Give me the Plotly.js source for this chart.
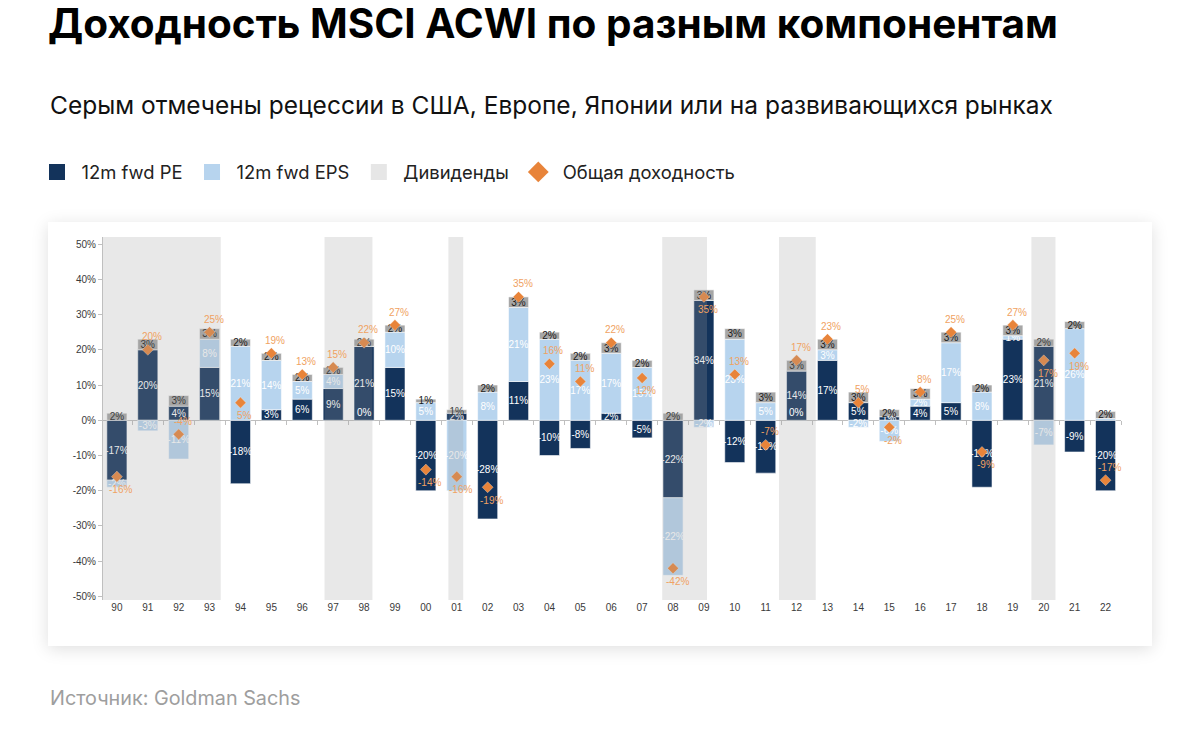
<!DOCTYPE html>
<html>
<head>
<meta charset="utf-8">
<script src="https://cdn.plot.ly/plotly-3.0.1.min.js"></script>
<style>
  html, body { margin: 0; padding: 0; background: #ffffff; }
  #wrap { position: relative; width: 1200px; height: 746px; }
  #card { position: absolute; left: 48px; top: 222px; width: 1104px; height: 424px;
          background: #ffffff; box-shadow: 0 3px 16px rgba(0,0,0,0.13); }
  #chart { position: absolute; left: 0; top: 0; width: 1200px; height: 746px; }
</style>
</head>
<body>
<div id="wrap">
  <div id="card"></div>
  <div id="chart"></div>
</div>
<script>
// ---- data ----
const years = ['90','91','92','93','94','95','96','97','98','99',
               '00','01','02','03','04','05','06','07','08','09',
               '10','11','12','13','14','15','16','17','18','19',
               '20','21','22'];
const peContribution = [-17, 20, 4, 15, -18, 3, 6, 9, 21, 15,
                        -20, 2, -28, 11, -10, -8, 2, -5, -22, 34,
                        -12, -15, 14, 17, 5, 1, 4, 5, -19, 23,
                        21, -9, -20];
const epsContribution = [-2, -3, -11, 8, 21, 14, 5, 4, 0, 10,
                         5, -20, 8, 21, 23, 17, 17, 15, -22, -2,
                         23, 5, 0, 3, -2, -6, 2, 17, 8, 1,
                         -7, 26, 0.5];
const dividends = [2, 3, 3, 3, 2, 2, 2, 2, 2, 2,
                   1, 1, 2, 3, 2, 2, 3, 2, 2, 3,
                   3, 3, 3, 3, 3, 2, 3, 3, 2, 3,
                   2, 2, 2];
const totalReturn = [-16, 20, -4, 25, 5, 19, 13, 15, 22, 27,
                     -14, -16, -19, 35, 16, 11, 22, 12, -42, 35,
                     13, -7, 17, 23, 5, -2, 8, 25, -9, 27,
                     17, 19, -17];
const recessions = [['90','93'], ['97','98'], ['01','01'], ['08','09'], ['12','12'], ['20','20']];
const yTicks = [50, 40, 30, 20, 10, 0, -10, -20, -30, -40, -50];

// ---- style (positions / looks) ----
const totalLabelPos = ['bottom','top','top','top','bottom','top','top','top','top','top',
                       'bottom','bottom','bottom','top','top','top','top','bottom','bottom','bottom',
                       'top','top','top','top','top','bottom','top','top','bottom','top',
                       'bottom','bottom','top'];
const recessionPad = [[0.45, 0.36], [0.28, 0.27], [0.27, 0.21], [0.35, 0.10], [0.57, 0.62], [0.40, 0.38]];

const C_PE = '#13335b', C_EPS = '#b7d4ee', C_DIV = '#a6a6a6', C_DIV_LEG = '#e6e6e6';
const C_ORANGE = '#e8843a', C_ORANGE_TXT = '#f0a262';
const AX = '#bfbfbf', TICKTXT = '#3a3a3a';
const chartFont = 'Liberation Sans, Arial, sans-serif';
const pageFont = 'Inter, Roboto, sans-serif';

const pct = v => (Math.abs(v) < 1 && v !== 0) ? '' : Math.round(v) + '%';
const yRange = [-51, 52];

const barCommon = {
  type: 'bar', x: years, textposition: 'inside', insidetextanchor: 'middle',
  textangle: 0, constraintext: 'none', showlegend: false, hoverinfo: 'skip',
  cliponaxis: false
};

const traces = [
  Object.assign({}, barCommon, {
    name: '12m fwd PE', y: peContribution, text: peContribution.map(pct),
    marker: { color: C_PE, line: { color: 'rgba(255,255,255,0.7)', width: 0.8 } },
    textfont: { color: '#ffffff', size: 10, family: chartFont }
  }),
  Object.assign({}, barCommon, {
    name: '12m fwd EPS', y: epsContribution, text: epsContribution.map(pct),
    marker: { color: C_EPS, line: { color: 'rgba(255,255,255,0.7)', width: 0.8 } },
    textfont: { color: '#ffffff', size: 10, family: chartFont }
  }),
  Object.assign({}, barCommon, {
    name: 'Дивиденды', y: dividends, text: dividends.map(pct),
    marker: { color: C_DIV, line: { color: 'rgba(255,255,255,0.7)', width: 0.8 } },
    textfont: { color: '#1a1a1a', size: 10, family: chartFont }
  }),
  {
    type: 'scatter', mode: 'markers', name: 'Общая доходность',
    x: years, y: totalReturn, xaxis: 'x2', yaxis: 'y',
    marker: { symbol: 'diamond', size: 8.5, color: C_ORANGE, line: { color: 'rgba(255,255,255,0.6)', width: 0.5 } },
    showlegend: false, hoverinfo: 'skip', cliponaxis: false
  },
  // legend entries
  { type: 'scatter', mode: 'markers', x: [null], y: [null], name: '12m fwd PE',
    marker: { symbol: 'square', size: 16, color: C_PE } },
  { type: 'scatter', mode: 'markers', x: [null], y: [null], name: '12m fwd EPS',
    marker: { symbol: 'square', size: 16, color: C_EPS } },
  { type: 'scatter', mode: 'markers', x: [null], y: [null], name: 'Дивиденды',
    marker: { symbol: 'square', size: 16, color: C_DIV_LEG } },
  { type: 'scatter', mode: 'markers', x: [null], y: [null], name: 'Общая доходность',
    marker: { symbol: 'diamond', size: 16, color: C_ORANGE } }
];

// recession shading (category index units)
const shapes = recessions.map((r, i) => ({
  type: 'rect', layer: 'above', xref: 'x', yref: 'paper',
  x0: years.indexOf(r[0]) - recessionPad[i][0],
  x1: years.indexOf(r[1]) + recessionPad[i][1],
  y0: 0, y1: 1,
  fillcolor: 'rgba(160,160,160,0.24)', line: { width: 0 }
}));

const annotations = [];
// total return labels (x given as category index)
totalReturn.forEach((v, i) => {
  annotations.push({ x: i, y: v, xref: 'x', yref: 'y', yanchor: 'middle',
    yshift: totalLabelPos[i] === 'top' ? 13 : -13, xshift: 4,
    text: pct(v), showarrow: false,
    font: { color: C_ORANGE_TXT, size: 10, family: chartFont } });
});
// zero-value EPS labels
epsContribution.forEach((v, i) => {
  if (v === 0) {
    annotations.push({ x: i, y: 0, xref: 'x', yref: 'y', yanchor: 'bottom',
      text: '0%', showarrow: false, font: { color: '#ffffff', size: 10, family: chartFont } });
  }
});

// page texts
const W = 1200, H = 746, mL = 103, mR = 79, mT = 237, mB = 146;
const pw = W - mL - mR, ph = H - mT - mB;
const px2x = px => (px - mL) / pw;
const py2y = py => (H - mB - py) / ph;

annotations.push({
  xref: 'paper', yref: 'paper', x: px2x(48), y: py2y(105), xanchor: 'left', yanchor: 'middle',
  text: 'Серым отмечены рецессии в США, Европе, Японии или на развивающихся рынках',
  showarrow: false, font: { family: pageFont, size: 24.5, color: '#111111' }
});
annotations.push({
  xref: 'paper', yref: 'paper', x: px2x(48), y: py2y(698), xanchor: 'left', yanchor: 'middle',
  text: 'Источник: Goldman Sachs',
  showarrow: false, font: { family: pageFont, size: 19.8, color: '#9e9e9e' }
});

const layout = {
  width: W, height: H,
  margin: { l: mL, r: mR, t: mT, b: mB },
  paper_bgcolor: 'rgba(0,0,0,0)', plot_bgcolor: 'rgba(0,0,0,0)',
  barmode: 'relative', bargap: 0.35,
  title: {
    text: 'Доходность MSCI ACWI по разным компонентам',
    xref: 'container', yref: 'container', x: 48 / W, xanchor: 'left',
    y: 1 - 24 / H, yanchor: 'middle',
    font: { family: pageFont, size: 40.5, color: '#000000', weight: 700 }
  },
  showlegend: true,
  legend: {
    orientation: 'h', x: px2x(32.5), xanchor: 'left', y: py2y(172), yanchor: 'middle',
    itemwidth: 39,
    font: { family: pageFont, size: 18.4, color: '#222222' },
    bgcolor: 'rgba(0,0,0,0)', itemclick: false, itemdoubleclick: false, traceorder: 'normal'
  },
  xaxis: {
    type: 'category', categoryorder: 'array', categoryarray: years,
    range: [-0.45, years.length - 0.5],
    showline: false, ticks: '', showgrid: false, zeroline: false,
    tickfont: { family: chartFont, size: 10, color: TICKTXT },
    fixedrange: true
  },
  xaxis2: {
    type: 'category', matches: 'x', overlaying: 'x', anchor: 'free',
    position: (0 - yRange[0]) / (yRange[1] - yRange[0]),
    showline: true, linecolor: AX, linewidth: 1,
    ticks: 'outside', ticklen: 4, tickcolor: AX, tickson: 'boundaries',
    showticklabels: false, showgrid: false, zeroline: false, layer: 'below traces',
    fixedrange: true
  },
  yaxis: {
    range: yRange, tickvals: yTicks, ticktext: yTicks.map(v => v + '%'),
    showline: true, linecolor: AX, linewidth: 1,
    ticks: 'outside', ticklen: 4, tickcolor: AX,
    showgrid: false, zeroline: false,
    tickfont: { family: chartFont, size: 10, color: TICKTXT },
    fixedrange: true
  },
  shapes: shapes,
  annotations: annotations
};

Plotly.newPlot('chart', traces, layout, { displayModeBar: false, staticPlot: true });
</script>
</body>
</html>
